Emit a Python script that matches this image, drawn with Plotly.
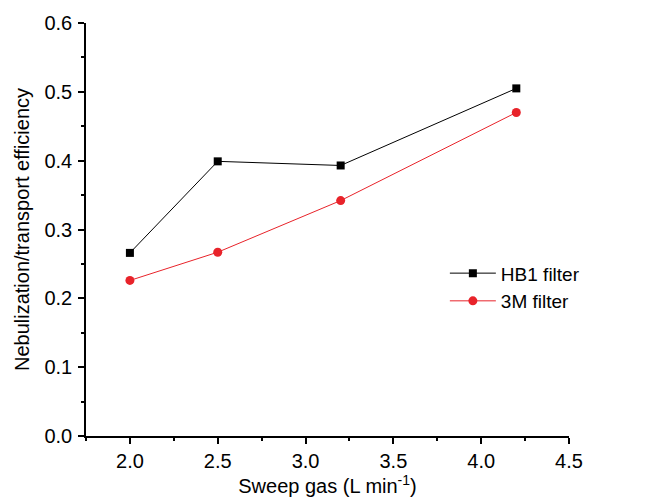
import plotly.graph_objects as go

sweep_gas = [2.0, 2.5, 3.2, 4.2]
hb1_filter = [0.266, 0.399, 0.393, 0.505]
m3_filter = [0.226, 0.267, 0.342, 0.470]

fig = go.Figure()
fig.add_trace(go.Scatter(x=sweep_gas, y=hb1_filter, mode="lines+markers", name="HB1 filter",
                         line=dict(color="black", width=1), marker=dict(symbol="square", size=8, color="black")))
fig.add_trace(go.Scatter(x=sweep_gas, y=m3_filter, mode="lines+markers", name="3M filter",
                         line=dict(color="#e8232a", width=1), marker=dict(symbol="circle", size=9, color="#e8232a")))

axis_common = dict(showline=True, linecolor="black", linewidth=1.5, ticks="outside", ticklen=6,
                   tickwidth=1.5, tickcolor="black", showgrid=False, zeroline=False, automargin=False,
                   tickfont=dict(size=20, color="black"))
fig.update_xaxes(range=[1.75, 4.5], dtick=0.5, tick0=2.0, tickformat=".1f",
                 minor=dict(ticks="outside", ticklen=3, dtick=0.25, tick0=1.75, tickcolor="black", tickwidth=1.5),
                 title=dict(text="Sweep gas (L min<sup>-1</sup>)", font=dict(size=20, color="black"), standoff=0),
                 **axis_common)
fig.update_yaxes(range=[0, 0.6], dtick=0.1, tickformat=".1f", ticklabelstandoff=2,
                 minor=dict(ticks="outside", ticklen=3, dtick=0.05, tickcolor="black", tickwidth=1.5),
                 title=dict(text="Nebulization/transport efficiency", font=dict(size=20, color="black"), standoff=9),
                 **axis_common)
fig.update_layout(width=648, height=489, margin=dict(l=78, r=87, t=15, b=61),
                  plot_bgcolor="white", paper_bgcolor="white",
                  font=dict(family="Liberation Sans, Arial, sans-serif", color="black"),
                  legend=dict(x=0.743, y=0.44, xanchor="left", yanchor="top", font=dict(size=19),
                              bgcolor="rgba(0,0,0,0)", tracegroupgap=0, itemwidth=46))
fig.write_html("out.html")
